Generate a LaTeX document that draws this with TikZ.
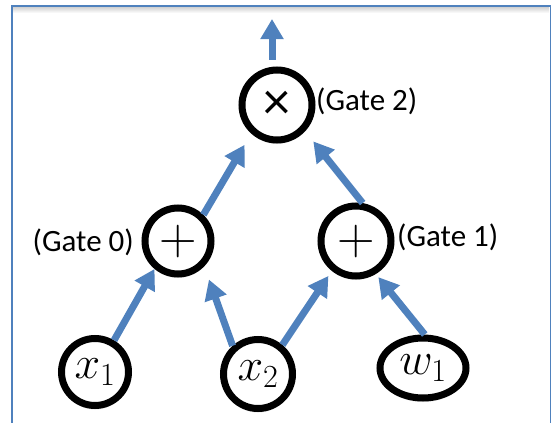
\RequirePackage{fix-cm}
\documentclass[tikz,border=0pt]{standalone}
\usepackage{fontspec}
\setmainfont{Carlito}
\usetikzlibrary{arrows.meta,shapes.geometric,shadows,calc}
\definecolor{arrblue}{HTML}{4F81BD}
\begin{document}
\begin{tikzpicture}[x=1pt,y=-1pt,
  gate/.style={circle,draw=black,line width=7pt,fill=white,inner sep=0pt,
     drop shadow={shadow xshift=0pt,shadow yshift=-4pt,opacity=0.25,fill=gray}},
  leaf/.style={gate},
  lab/.style={inner sep=0pt,font=\fontsize{31}{33}\selectfont},
  arr/.style={draw=arrblue,line width=7pt,-{Triangle[width=22pt,length=20pt]}}]
\useasboundingbox (0,0) rectangle (552,423);
% frame
\shade[top color=black!18,bottom color=white] (13,7) rectangle (549,13);
\draw[arrblue,line width=1.5pt] (12,423) -- (12,6) -- (550.5,6) -- (550.5,423);
% nodes
\node[gate,minimum size=70pt] (g2) at (277,105) {\fontsize{54}{54}\selectfont\raisebox{-6pt}{×}};
\node[gate,minimum size=66pt] (g0) at (178,241) {\fontsize{52}{52}\selectfont$+$};
\node[gate,minimum size=70pt] (g1) at (356,241) {\fontsize{52}{52}\selectfont$+$};
\node[leaf,minimum size=67pt] (x1) at (95,372) {\fontsize{46}{46}\selectfont$x_1$};
\node[leaf,minimum size=69pt] (x2) at (258,374) {\fontsize{46}{46}\selectfont$x_2$};
\node[leaf,ellipse,minimum width=86pt,minimum height=60pt] (w1) at (423,368) {\fontsize{46}{46}\selectfont$w_1$};
% labels
\node[lab,anchor=west] (l2) at (316,101) {(Gate 2)};
\node[lab,anchor=east] (l0) at (134,242) {(Gate 0)};
\node[lab,anchor=west] (l1) at (397,237) {(Gate 1)};
% arrows
\coordinate (out) at (272,19);
\draw[arr] (x1.59) -- (g0.230);
\draw[arr,shorten >=14pt] (x2.132) -- (g0.316);
\draw[arr,shorten >=6pt] (x2.50) -- (g1.231);
\draw[arr,shorten >=4pt] (w1.87) -- (g1.301);
\draw[arr,shorten >=13pt] (g0.46) -- (g2.228);
\draw[arr,shorten >=13pt] (g1.80) -- (g2.317);
\draw[arr,shorten <=7pt] (g2.north -| out) -- (out);
\end{tikzpicture}
\end{document}
